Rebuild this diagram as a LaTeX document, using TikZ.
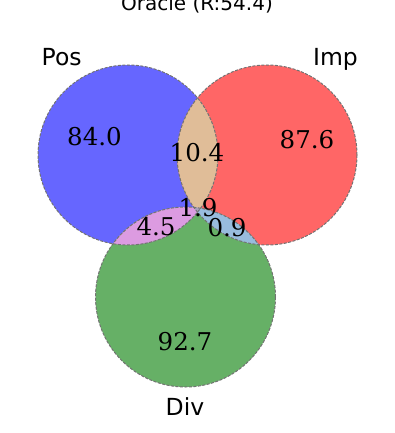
\documentclass[tikz,border=0pt]{standalone}
\usepackage{fontspec}
\setmainfont{DejaVu Serif}
\setsansfont{DejaVu Sans}
\usetikzlibrary{positioning}
\definecolor{posColor}{RGB}{102,102,255}
\definecolor{impColor}{RGB}{255,102,102}
\definecolor{divColor}{RGB}{102,176,102}
\definecolor{posImp}{RGB}{224,189,152}
\definecolor{posDiv}{RGB}{220,155,225}
\definecolor{impDiv}{RGB}{152,188,222}
\definecolor{allThree}{RGB}{170,160,190}
\tikzset{
  setlabel/.style={font=\sffamily\fontsize{23.5}{26}\selectfont, inner sep=0pt, anchor=base},
  count/.style={font=\fontsize{24.5}{26}\selectfont, inner sep=0pt},
  rim/.style={draw=gray!90!black, line width=1pt, dash pattern=on 3pt off 1.5pt}
}

\begin{document}
\begin{tikzpicture}[x=1pt, y=-1pt]
  \useasboundingbox (0,0) rectangle (395,433);
  % centres of the three sets
  \coordinate (pos) at (128,155);
  \coordinate (imp) at (267,155);
  \coordinate (div) at (185.5,297);
  % single sets
  \fill[posColor] (pos) circle[radius=90pt];
  \fill[impColor] (imp) circle[radius=90pt];
  \fill[divColor] (div) circle[radius=90pt];
  % pairwise overlaps
  \begin{scope}
    \clip (pos) circle[radius=90pt];
    \fill[posImp] (imp) circle[radius=90pt];
    \fill[posDiv] (div) circle[radius=90pt];
  \end{scope}
  \begin{scope}
    \clip (imp) circle[radius=90pt];
    \fill[impDiv] (div) circle[radius=90pt];
  \end{scope}
  % triple overlap
  \begin{scope}
    \clip (pos) circle[radius=90pt];
    \clip (imp) circle[radius=90pt];
    \fill[allThree] (div) circle[radius=90pt];
  \end{scope}
  % outlines
  \foreach \c in {pos,imp,div}
    \draw[rim] (\c) circle[radius=90pt];
  % title and set names
  \node[setlabel, font=\sffamily\fontsize{20}{22}\selectfont] (title) at (197,10.5) {Oracle (R:54.4)};
  \node[setlabel] (posName) at (61.7,66) {Pos};
  \node[setlabel] (impName) at (335.5,66) {Imp};
  \node[setlabel] (divName) at (185,415) {Div};
  % region counts
  \node[count] (nPos) at (94.5,136.5) {84.0};
  \node[count] (nImp) at (307,140) {87.6};
  \node[count] (nDiv) at (185,341.5) {92.7};
  \node[count] (nPosImp) at (197,153) {10.4};
  \node[count] (nPosDiv) at (156,227) {4.5};
  \node[count] (nImpDiv) at (227,228) {0.9};
  \node[count] (nAll) at (198,208) {1.9};
\end{tikzpicture}
\end{document}
